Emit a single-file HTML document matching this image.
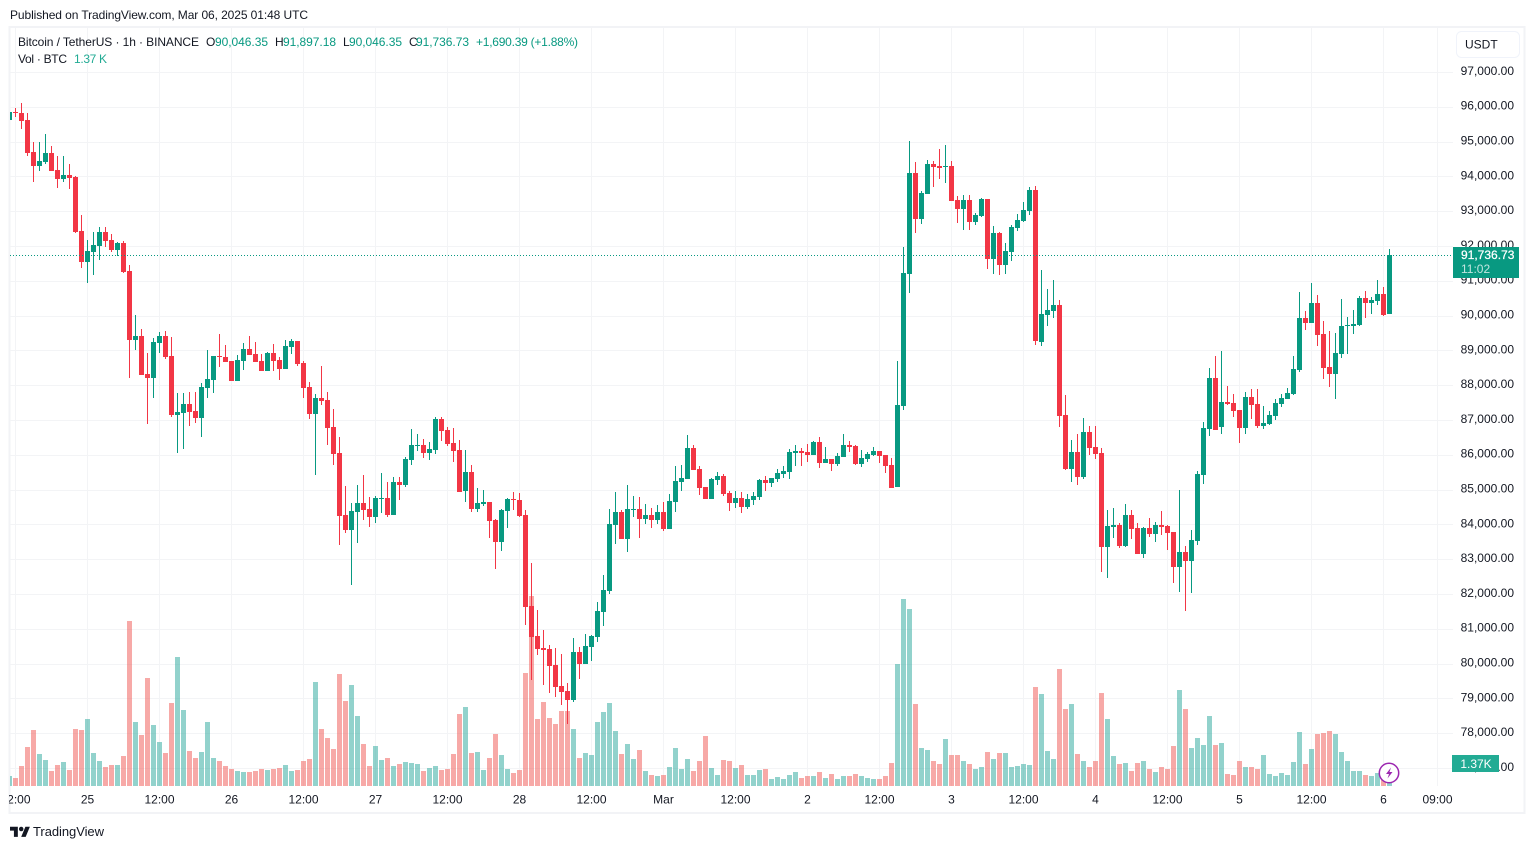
<!DOCTYPE html>
<html lang="en">
<head>
<meta charset="utf-8">
<title>BTC/USDT 1h chart</title>
<style>
html,body{margin:0;padding:0;background:#fff;width:1534px;height:849px;overflow:hidden}
svg{display:block;font-family:"Liberation Sans",sans-serif;font-size:12px;fill:#131722}
</style>
</head>
<body>
<svg id="chart" xmlns="http://www.w3.org/2000/svg" width="1534" height="849" viewBox="0 0 1534 849">
  <defs>
    <clipPath id="pane-clip"><rect x="10" y="28" width="1443" height="758"></rect></clipPath>
    <clipPath id="axis-clip"><rect x="9" y="786" width="1444" height="27"></rect></clipPath>
  </defs>
  <rect x="0" y="0" width="1534" height="849" fill="#ffffff"></rect>
  <text x="10" y="19" textLength="298" lengthAdjust="spacing">Published on TradingView.com, Mar 06, 2025 01:48 UTC</text>
  <rect x="9.5" y="27" width="1515" height="786" fill="none" stroke="#f2f3f6" stroke-width="2"></rect>
  <g id="grid" clip-path="url(#pane-clip)"></g>
  <g id="volumes" clip-path="url(#pane-clip)"></g>
  <g id="candles" clip-path="url(#pane-clip)"></g>
  <line id="last-line" x1="10" x2="1453" stroke="#089981" stroke-width="1" stroke-dasharray="1 2"></line>
  <g id="price-axis"></g>
  <g id="time-axis" clip-path="url(#axis-clip)"></g>

  <g>
    <text x="18" y="46" textLength="181" lengthAdjust="spacing">Bitcoin / TetherUS · 1h · BINANCE</text>
    <text x="206" y="46">O</text>
    <text x="215" y="46" fill="#089981" textLength="53" lengthAdjust="spacing">90,046.35</text>
    <text x="275" y="46">H</text>
    <text x="283" y="46" fill="#089981" textLength="53" lengthAdjust="spacing">91,897.18</text>
    <text x="343" y="46">L</text>
    <text x="349" y="46" fill="#089981" textLength="53" lengthAdjust="spacing">90,046.35</text>
    <text x="409" y="46">C</text>
    <text x="416" y="46" fill="#089981" textLength="53" lengthAdjust="spacing">91,736.73</text>
    <text x="476" y="46" fill="#089981" textLength="102" lengthAdjust="spacing">+1,690.39 (+1.88%)</text>
    <text x="18" y="63" textLength="49" lengthAdjust="spacing">Vol · BTC</text>
    <text x="74" y="63" fill="#22ab94" textLength="33" lengthAdjust="spacing">1.37 K</text>
  </g>

  <g>
    <rect x="1456.5" y="31.5" width="63" height="26" rx="5" fill="#ffffff" stroke="#f0f3fa"></rect>
    <text x="1465" y="48.5">USDT</text>
  </g>

  <g>
    <rect x="1453" y="247" width="66" height="31" fill="#089981"></rect>
    <text x="1461" y="259" fill="#ffffff" stroke="#ffffff" stroke-width="0.25">91,736.73</text>
    <text x="1461" y="273" fill="#ffffff" fill-opacity="0.75">11:02</text>
  </g>
  <g>
    <rect x="1452" y="755" width="47" height="17" fill="#22ab94"></rect>
    <text x="1476" y="768" text-anchor="middle" fill="#ffffff">1.37K</text>
  </g>

  <g>
    <circle cx="1389" cy="773" r="9.7" fill="#ffffff" stroke="#9c27b0" stroke-width="1.5"></circle>
    <path d="M1391 767.5l-5 6.5h3l-1.5 4.5 5-6.5h-3z" fill="#9c27b0"></path>
  </g>

  <g>
    <g transform="translate(10 824.5) scale(0.56)" fill="#131722">
      <path d="M14 22H7V11H0V4h14v18zM28 22h-8l7.5-18h8L28 22z"></path>
      <circle cx="20" cy="8" r="4"></circle>
    </g>
    <text x="33" y="836" style="font-size:13px" textLength="71" lengthAdjust="spacing">TradingView</text>
  </g>
</svg>

<script>
const opens = [
95619,95849,95820,95619,94699,94297,94412,94670,94182,93923,
94038,93981,92429,91538,91825,92001,92400,92170,91883,92084,
91279,89295,89410,88318,88203,89209,89410,88836,87140,87197,
87456,87255,87054,87916,88146,88836,88807,88692,88117,88692,
89037,88893,88692,88404,88922,88721,88462,89094,89267,88634,
87945,87169,87628,87571,86795,86048,84266,83835,84352,84611,
84438,84208,84726,84755,84266,85214,85128,85847,86249,86278,
86048,86134,87025,86709,86335,86134,84956,85502,84438,84582,
84640,84122,83490,84381,84726,84697,84266,81651,80788,80444,
80415,79955,79352,79208,78949,80329,79984,80472,80760,81478,
82082,83979,84352,83576,84410,84438,84151,84266,84122,84352,
83863,84640,85214,85300,86192,85588,85071,84726,85272,85387,
84898,84611,84755,84496,84697,84783,85272,85186,85301,85444,
85502,86048,86105,86077,85990,86364,85760,85875,85732,85933,
86278,86249,85732,85875,85990,86105,85990,85703,85071,87399,
91192,94095,92773,93492,94354,94296,94268,94296,93319,93060,
93319,92687,92859,93348,91623,92371,91451,91825,92514,92716,
93003,93607,89238,90014,90129,90301,87140,85588,86077,85358,
86651,86220,86048,83346,83921,83979,83375,84266,83892,83145,
83892,83720,83979,83950,83777,82771,83203,82944,83519,85415,
86738,88203,86795,87514,87485,87284,86766,87657,87456,86824,
86881,87111,87456,87600,87744,88434,89928,89785,90359,89468,
88520,88319,88894,89698,89698,89727,90503,90359,90417,90618,
90046.35];
const highs = [
95849,95964,96107,95820,94987,94987,95216,94872,94584,94584,
94354,94010,92889,92170,92400,92544,92544,92342,92112,92141,
91452,90014,89612,88922,89353,89525,89554,89382,87772,87772,
87801,87801,88060,89008,88836,89468,89152,88692,88864,89209,
89410,89238,88893,88951,89180,88807,89295,89324,89267,88692,
88088,87743,88548,87801,87312,86508,85099,84611,85128,85415,
84783,84812,85473,85214,85358,85358,85933,86738,86594,86450,
86364,87082,87082,86795,86766,86421,86134,85703,85042,84984,
84640,84151,84438,84755,84927,84898,84410,82886,81536,80961,
80530,80444,80271,79438,80731,80472,80846,80817,81766,82541,
84438,84927,84410,85128,84812,84783,84582,84467,84553,84640,
84869,85674,85703,86565,86278,85674,85071,85329,85502,85444,
84956,84956,84927,84869,84927,85301,85387,85329,85588,85674,
86163,86278,86192,86306,86393,86508,86220,85875,86048,86594,
86393,86278,86134,86077,86220,86105,85990,85904,88700,91968,
95015,94411,93578,94469,94440,94785,94900,94440,93434,93463,
93463,92946,93377,93348,92572,92400,92083,92601,92917,93262,
93693,93722,91307,90761,91020,90445,87715,86421,86594,87054,
86824,86824,86192,84410,84467,84036,84582,84410,84036,83921,
84180,84065,84381,83979,83777,84984,83375,83835,85530,86939,
88491,88836,88979,87973,87743,87284,87801,87887,87887,87399,
87255,87600,87743,87916,88836,90675,90129,90934,90589,89842,
89555,89497,90474,89957,90158,90561,90704,90532,91020,90819,
91897.18];
const lows = [
95619,95705,95360,94584,93837,94153,94354,94153,93664,93837,
93636,92371,91365,90934,91164,91595,91969,91825,91710,91222,
88203,89008,88289,86881,87628,88922,88749,87082,86048,86163,
86824,86910,86508,87628,87772,88519,88663,88117,88117,88433,
88864,88663,88404,88404,88404,88146,88462,88893,88548,87628,
87025,85416,87427,86278,85703,83404,83749,82254,83461,84122,
83921,84036,84323,84208,84266,84697,85071,85703,86105,85904,
85847,86019,86393,86249,85789,84927,84640,84352,84352,84524,
83605,82714,83231,83892,84410,84208,81104,79524,80242,79380,
79150,79035,78805,78260,78892,79552,79984,80070,80616,81076,
81995,83432,83576,83203,84208,83605,84007,83892,84007,83816,
83863,84352,84956,85300,85559,84841,84726,84726,85128,84812,
84381,84467,84323,84438,84553,84697,84956,85071,85214,85329,
85301,85674,85674,85789,85990,85617,85760,85531,85674,85933,
86077,85703,85645,85789,85962,85760,85473,85042,85071,87284,
90646,92371,92629,93492,93693,93923,93808,93290,92658,92457,
92457,92601,92831,91336,91192,91164,91192,91566,92428,92687,
92888,89152,89123,89698,89928,86795,85559,85214,85128,85301,
85990,85875,82628,82455,83605,83318,83346,83576,83145,83030,
83634,83490,83691,83260,82312,82053,81507,82024,83404,85157,
86536,86709,86594,87427,87082,86335,86594,87025,86766,86738,
86853,86996,87370,87600,87715,88376,89583,89785,89124,88175,
87945,87600,88779,88894,89468,89698,89928,90043,90302,89986,
90046.35];
const closes = [
95849,95830,95590,94670,94297,94440,94670,94153,93923,94038,
93952,92400,91538,91854,92026,92400,92141,91883,92084,91250,
89295,89410,88289,88203,89238,89410,88807,87140,87226,87456,
87226,87054,87945,88175,88836,88807,88663,88117,88721,89037,
88864,88663,88404,88922,88692,88462,89123,89267,88606,87916,
87169,87628,87542,86766,86019,84237,83835,84381,84611,84410,
84208,84755,84755,84266,85214,85128,85875,86278,86278,86048,
86163,87025,86680,86306,86105,84927,85502,84438,84611,84640,
84093,83490,84410,84726,84697,84237,81622,80760,80415,80386,
79926,79323,79179,78949,80329,79984,80501,80788,81507,82110,
84007,84352,83576,84438,84438,84151,84266,84122,84352,83863,
84668,85243,85329,86192,85559,85042,84726,85301,85387,84869,
84611,84755,84496,84726,84812,85272,85186,85329,85473,85530,
86077,86105,86048,85990,86364,85760,85875,85732,85962,86278,
86220,85732,85904,86019,86105,85962,85674,85042,87427,91221,
94095,92773,93520,94354,94268,94239,94296,93290,93060,93319,
92687,92888,93348,91623,92371,91451,91853,92543,92744,93032,
93607,89267,90043,90158,90301,87111,85588,86077,85358,86651,
86192,86019,83346,83950,83979,83375,84266,83864,83145,83892,
83720,83979,83921,83749,82771,83203,82944,83547,85444,86766,
88203,86709,87514,87456,87255,86766,87657,87427,86824,86910,
87140,87485,87628,87772,88463,89928,89785,90359,89440,88491,
88319,88922,89698,89727,89756,90503,90359,90445,90618,90015,
91736.73];
const volumes = [
0.6,0.48,1.19,2.32,3.33,1.90,1.55,0.89,1.25,1.43,
0.95,3.39,3.33,3.99,1.96,1.49,1.13,1.25,1.25,1.79,
9.82,3.81,3.04,6.43,3.63,2.62,1.96,4.94,7.68,4.52,
2.08,1.67,2.02,3.81,1.67,1.49,1.19,1.01,0.89,0.83,
0.83,0.89,1.01,0.95,1.01,1.07,1.25,0.89,0.95,1.49,
1.61,6.19,3.39,2.86,2.20,6.67,5.06,6.01,4.17,2.50,
1.19,2.38,1.55,1.67,1.19,1.31,1.43,1.37,1.31,0.89,
1.07,1.19,0.95,1.01,1.90,4.29,4.70,1.96,2.02,0.95,
1.67,3.10,1.85,1.01,0.77,0.95,6.73,11.31,3.99,5.00,
4.05,3.69,4.46,4.46,3.39,1.67,1.96,1.85,3.81,4.40,
4.94,3.27,1.90,2.50,1.61,2.14,0.89,0.65,0.60,0.65,
1.13,2.26,1.01,1.61,0.89,1.49,2.98,1.07,0.65,1.55,
1.49,1.07,1.25,0.65,0.65,0.95,1.01,0.42,0.54,0.42,
0.65,0.83,0.48,0.60,0.60,0.83,0.48,0.71,0.42,0.60,
0.60,0.71,0.60,0.48,0.42,0.42,0.60,1.37,7.26,11.13,
10.54,4.88,2.26,2.14,1.49,1.31,2.80,1.85,1.85,1.49,
1.31,1.01,1.13,2.02,1.61,1.96,1.96,1.13,1.19,1.31,
1.25,5.89,5.48,2.08,1.61,6.96,4.58,4.88,1.90,1.49,
1.13,1.49,5.54,3.99,1.79,1.31,1.37,0.89,1.37,1.49,
1.01,0.83,1.13,1.01,2.38,5.71,4.58,2.26,2.86,2.44,
4.17,2.44,2.56,0.71,0.65,1.49,1.13,1.13,1.01,1.85,
0.71,0.60,0.77,0.65,1.43,3.21,1.31,2.20,3.10,3.15,
3.27,3.10,2.02,1.49,0.89,0.89,0.65,0.60,0.77,0.55,
1.37];
const priceTicks = [97000,96000,95000,94000,93000,92000,91000,90000,89000,88000,87000,86000,85000,84000,83000,82000,81000,80000,79000,78000,77000];
const timeTickLabels = ['12:00','25','12:00','26','12:00','27','12:00','28','12:00','Mar','12:00','2','12:00','3','12:00','4','12:00','5','12:00','6','09:00'];
const timeTickHours = [0,12,24,36,48,60,72,84,96,108,120,132,144,156,168,180,192,204,216,228,237];
const lastPrice = 91736.73;

const SVG_NS = 'http://www.w3.org/2000/svg';
function xOfBar(i) { return 9.5 + 6 * i; }
function xOfHour(h) { return 15.5 + 6 * h; }
function yOfPrice(p) { return 315.5 - (p - 90000) * 0.0348; }
function yOfVolume(v) { return 786 - v * 16.8; }
function make(tag, parent, attrs) {
  const el = document.createElementNS(SVG_NS, tag);
  for (const k in attrs) el.setAttribute(k, attrs[k]);
  parent.appendChild(el);
  return el;
}
function fmt(p) {
  return p.toLocaleString('en-US', { minimumFractionDigits: 2, maximumFractionDigits: 2 });
}

const gridGroup = document.getElementById('grid');
const volumeGroup = document.getElementById('volumes');
const candleGroup = document.getElementById('candles');
const priceAxis = document.getElementById('price-axis');
const timeAxis = document.getElementById('time-axis');

priceTicks.forEach(function (p) {
  const y = Math.round(yOfPrice(p)) + 0.5;
  const line = make('line', gridGroup, { x1: 10, x2: 1453, y1: y, y2: y, stroke: '#f3f4f6', 'stroke-width': 1 });
  
  
  const label = make('text', priceAxis, { x: 1514, y: yOfPrice(p) + 3, 'text-anchor': 'end' });
  
  
  label.textContent = fmt(p);
});

timeTickHours.forEach(function (h, k) {
  const x = xOfHour(h);
  const line = make('line', gridGroup, { x1: x, x2: x, y1: 28, y2: 786, stroke: '#f3f4f6', 'stroke-width': 1 });
  
  
  const label = make('text', timeAxis, { x: x, y: 803.5, 'text-anchor': 'middle' });
  
  
  label.textContent = timeTickLabels[k];
});

volumes.forEach(function (v, i) {
  const up = closes[i] >= opens[i];
  const top = Math.round(yOfVolume(v));
  const bar = make('rect', volumeGroup, { x: xOfBar(i) - 2.5, y: top, width: 5, height: 786 - top, fill: up ? '#26a69a' : '#ef5350', 'fill-opacity': 0.5 });
  
  
});

opens.forEach(function (o, i) {
  const c = closes[i];
  const color = c >= o ? '#089981' : '#f23645';
  const x = xOfBar(i);
  const hy = Math.round(yOfPrice(highs[i]));
  const ly = Math.round(yOfPrice(lows[i]));
  const wick = make('rect', candleGroup, { x: x - 0.5, y: hy, width: 1, height: Math.max(1, ly - hy), fill: color });
  
  
  const top = Math.round(yOfPrice(Math.max(o, c)));
  const bottom = Math.round(yOfPrice(Math.min(o, c)));
  const body = make('rect', candleGroup, { x: x - 2.5, y: top, width: 5, height: Math.max(1, bottom - top), fill: color });
  
  
});

const lastLine = document.getElementById('last-line');
const lastY = Math.round(yOfPrice(lastPrice)) + 0.5;
lastLine.setAttribute('y1', lastY);
lastLine.setAttribute('y2', lastY);
</script>
</body>
</html>
